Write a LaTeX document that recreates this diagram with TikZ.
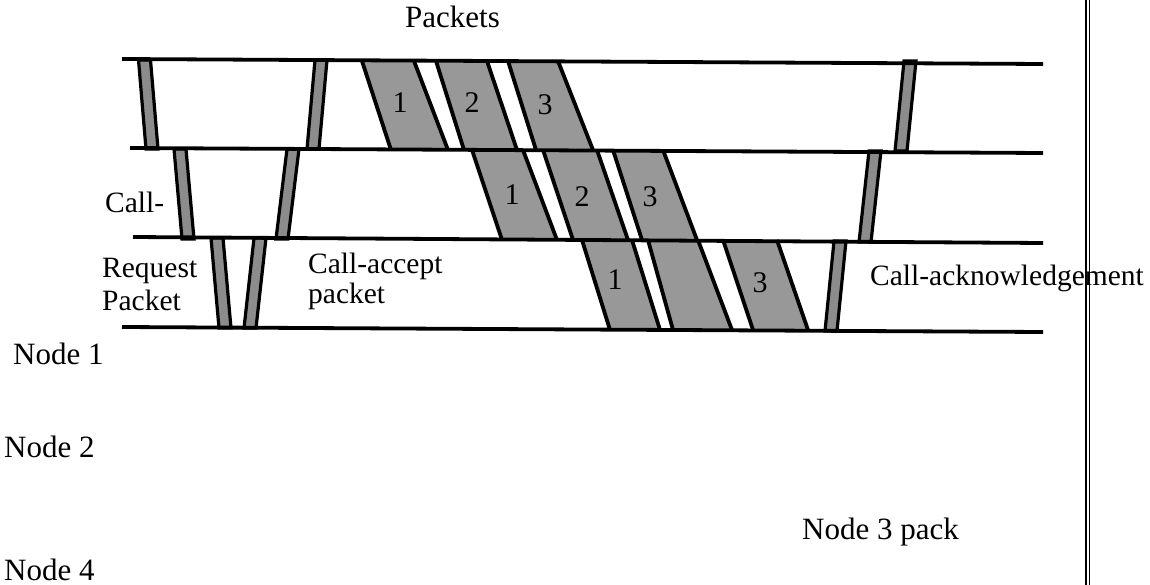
\documentclass[tikz,border=0pt]{standalone}
\usepackage{fontspec}
\setmainfont{Liberation Serif}
\begin{document}
\begin{tikzpicture}[x=1pt,y=-1pt,
  hline/.style={line width=3.8pt},
  pedge/.style={line width=3.8pt},
  bar/.style={fill=bargray,draw=black,line width=3.2pt,line join=miter},
  outer/.style={inner sep=0pt,anchor=base west,font=\fontsize{31}{36}\selectfont},
  inner/.style={inner sep=0pt,anchor=base west,font=\fontsize{29.5}{34}\selectfont},
  num/.style={inner sep=0pt,font=\fontsize{30}{32}\selectfont}]
\definecolor{pktgray}{RGB}{152,152,152}
\definecolor{bargray}{RGB}{140,140,140}
\useasboundingbox (0,0) rectangle (1150,585);
% packets row 1
\foreach \a/\b/\c/\d in {362/414/448/391,436/487/517/464,508/558/593/536}
  {\fill[pktgray] (\a,61) -- (\b,61) -- (\c,150) -- (\d,150) -- cycle;
   \draw[pedge] (\a,61) -- (\d,150) (\b,61) -- (\c,150);}
% packets row 2
\foreach \a/\b/\c/\d in {472/523/557/502,543/597/628/573,613/663/697/642}
  {\fill[pktgray] (\a,150) -- (\b,150) -- (\c,240) -- (\d,240) -- cycle;
   \draw[pedge] (\a,150) -- (\d,240) (\b,150) -- (\c,240);}
% packets row 3
\foreach \a/\b/\c/\d in {582/632/660/610,648/698/732/673,723/777/808/753}
  {\fill[pktgray] (\a,240) -- (\b,240) -- (\c,330) -- (\d,330) -- cycle;
   \draw[pedge] (\a,240) -- (\d,330) (\b,240) -- (\c,330);}
% thin bars
\foreach \t/\u/\yt/\yb in {144.5/152/60/149, 321/313/60/149, 910/901/61/151,
                          180/188/149/239, 293/282/149/239, 875/865/151/242,
                          217/225/238/328, 260/250/238/328, 840/831/241/331}
  \draw[bar] (\t-6,\yt) -- (\t+6,\yt) -- (\u+6,\yb) -- (\u-6,\yb) -- cycle;
% horizontal lines
\coordinate (l1a) at (122,59);  \coordinate (l1b) at (1043,64);
\coordinate (l2a) at (130,148); \coordinate (l2b) at (1043,153);
\coordinate (l3a) at (133,237); \coordinate (l3b) at (1043,243);
\coordinate (l4a) at (122,327); \coordinate (l4b) at (1043,332);
\draw[hline] (l1a) -- (l1b);
\draw[hline] (l2a) -- (l2b);
\draw[hline] (l3a) -- (l3b);
\draw[hline] (l4a) -- (l4b);
% packet numbers
\node[num] (n11) at (400,103) {1};
\node[num] (n12) at (472,103) {2};
\node[num] (n13) at (545,105) {3};
\node[num] (n21) at (512,195) {1};
\node[num] (n22) at (582,197) {2};
\node[num] (n23) at (650,197) {3};
\node[num] (n31) at (615,280) {1};
\node[num] (n33) at (760,283) {3};
% inner labels
\node[inner] (call) at (105,213) {Call-};
\node[inner] (req) at (102,277) {Request};
\node[inner] (reqp) at (102,310) {Packet};
\node[inner] (acc) at (308,273) {Call-accept};
\node[inner] (accp) at (308,303) {packet};
\node[inner] (ack) at (870,285) {Call-acknowledgement};
% outer labels
\node[outer] (pk) at (405,28) {Packets};
\node[outer] (nd1) at (13,364) {Node 1};
\node[outer] (nd2) at (4,457) {Node 2};
\node[outer] (nd4) at (4,580) {Node 4};
\node[outer] (nd3) at (802,539) {Node 3 pack};
% double vertical rule
\coordinate (va) at (1086,0); \coordinate (vb) at (1086,585);
\coordinate (wa) at (1089.5,0); \coordinate (wb) at (1089.5,585);
\draw[line width=1.3pt] (va) -- (vb);
\draw[line width=1.3pt] (wa) -- (wb);
\end{tikzpicture}
\end{document}
